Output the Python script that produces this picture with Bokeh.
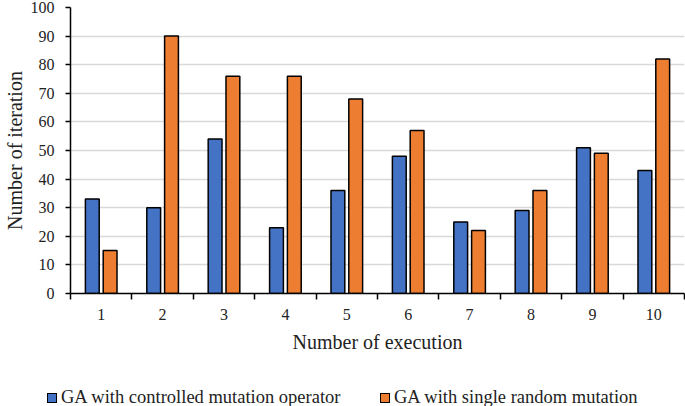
from bokeh.plotting import figure
from bokeh.layouts import column
from bokeh.models import ColumnDataSource, FixedTicker, Range1d, Div
from bokeh.transform import dodge
from bokeh.embed import file_html
from bokeh.resources import INLINE

executions = [1, 2, 3, 4, 5, 6, 7, 8, 9, 10]
tick_labels = ["1", "2", "3", "4", "5", "6", "7", "8", "9", "10"]
controlled = [33, 30, 54, 23, 36, 48, 25, 29, 51, 43]
single_random = [15, 90, 76, 76, 68, 57, 22, 36, 49, 82]
series_names = ["GA with controlled mutation operator", "GA with single random mutation"]
colors = ["#4472C4", "#ED7D31"]

FONT = "Liberation Serif"
TXT = "#222222"

src = ColumnDataSource(data=dict(x=executions, a=controlled, b=single_random))

p = figure(width=685, height=366, output_backend="svg", toolbar_location=None,
           x_range=Range1d(0.5, 10.5), y_range=Range1d(0, 100),
           min_border_left=69, min_border_right=1, min_border_top=7, min_border_bottom=73)
p.outline_line_color = None

p.vbar(x=dodge("x", -0.145, range=p.x_range), top="a", width=0.225, source=src,
       fill_color=colors[0], line_color="black", line_width=1.5)
p.vbar(x=dodge("x", 0.145, range=p.x_range), top="b", width=0.225, source=src,
       fill_color=colors[1], line_color="black", line_width=1.5)

p.xaxis.ticker = FixedTicker(ticks=executions, minor_ticks=[i + 0.5 for i in range(0, 11)])
p.xaxis.major_label_overrides = {e: l for e, l in zip(executions, tick_labels)}
p.xaxis.major_tick_out = 0
p.xaxis.major_tick_in = 0
p.xaxis.minor_tick_out = 6
p.xaxis.minor_tick_in = 0
p.xaxis.minor_tick_line_color = "black"
p.xaxis.minor_tick_line_width = 1.5
p.xaxis.axis_line_color = "black"
p.xaxis.axis_line_width = 1.5
p.xaxis.axis_label = "Number of execution"
p.xaxis.major_label_standoff = 9
p.xaxis.axis_label_standoff = 8

p.yaxis.ticker = FixedTicker(ticks=list(range(0, 101, 10)))
p.yaxis.major_tick_out = 5
p.yaxis.major_tick_in = 0
p.yaxis.minor_tick_out = 0
p.yaxis.axis_line_color = "black"
p.yaxis.axis_line_width = 1.5
p.yaxis.major_tick_line_width = 1.5
p.yaxis.axis_label = "Number of iteration"
p.yaxis.major_label_standoff = 11
p.yaxis.axis_label_standoff = 2

for ax in (p.xaxis, p.yaxis):
    ax.major_label_text_font = FONT
    ax.major_label_text_font_size = "16px"
    ax.major_label_text_color = TXT
    ax.axis_label_text_font = FONT
    ax.axis_label_text_font_size = "20px"
    ax.axis_label_text_font_style = "normal"
    ax.axis_label_text_color = TXT

p.xgrid.grid_line_color = None
p.ygrid.grid_line_color = "#d9d9d9"
p.ygrid.grid_line_width = 1.5

# legend row below the chart
key_left = [47, 380]
parts = []
for name, col, kx in zip(series_names, colors, key_left):
    parts.append(
        f'<span style="position:absolute;left:{kx}px;top:27px;width:10px;height:10px;'
        f'background:{col};border:1.5px solid #000;box-sizing:border-box;"></span>'
        f'<span style="position:absolute;left:{kx + 14}px;top:21px;line-height:20px;'
        f'white-space:nowrap;">{name}</span>'
    )
html = (f'<div style="position:relative;width:685px;height:40px;font-family:\'{FONT}\';'
        f'font-size:18.5px;color:{TXT};">' + "".join(parts) + '</div>')
legend_div = Div(text=html, width=685, height=40, margin=(0, 0, 0, 0))

layout = column(p, legend_div, spacing=0)
open("out.html", "w").write(file_html(layout, INLINE))
